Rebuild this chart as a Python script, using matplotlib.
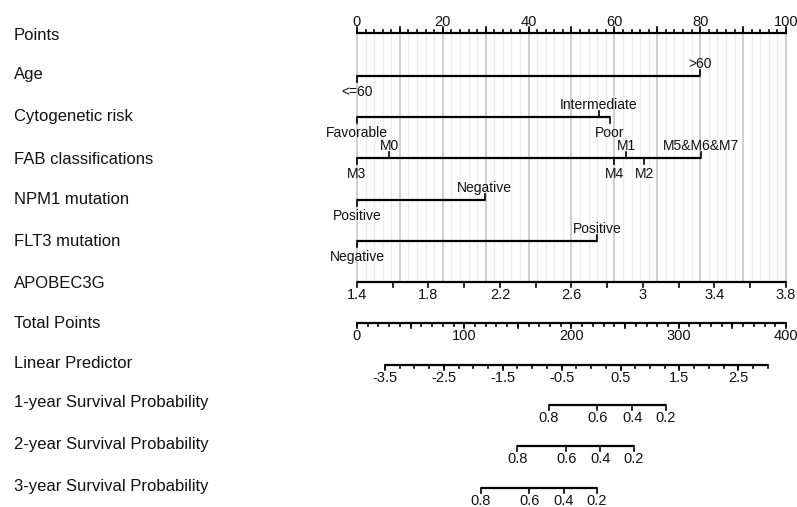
import matplotlib
matplotlib.use("Agg")
import matplotlib.pyplot as plt
import numpy as np

plt.rcParams['font.family'] = ['Liberation Sans', 'DejaVu Sans']

# ---- data ----
row_names = ["Points", "Age", "Cytogenetic risk", "FAB classifications", "NPM1 mutation",
             "FLT3 mutation", "APOBEC3G", "Total Points", "Linear Predictor",
             "1-year Survival Probability", "2-year Survival Probability",
             "3-year Survival Probability"]

# categorical predictors: (label, points, side) side: 1 above, -1 below
age_levels = [("<=60", 0.0, -1), (">60", 80.0, 1)]
cyto_levels = [("Favorable", 0.0, -1), ("Intermediate", 56.3, 1), ("Poor", 58.9, -1)]
fab_levels = [("M3", 0.0, -1), ("M0", 7.5, 1), ("M4", 60.0, -1), ("M1", 62.7, 1),
              ("M2", 67.0, -1), ("M5&M6&M7", 80.2, 1)]
npm1_levels = [("Positive", 0.0, -1), ("Negative", 29.8, 1)]
flt3_levels = [("Negative", 0.0, -1), ("Positive", 56.0, 1)]

# continuous predictor APOBEC3G: 1.4 -> 0 points, 3.8 -> 100 points
apo_min, apo_max = 1.4, 3.8
apo_labels = [1.4, 1.8, 2.2, 2.6, 3.0, 3.4, 3.8]

# linear predictor scale in total points
lp_min, lp_max = -3.5, 3.0
lp_tp_at_min = 26.1
tp_per_lp = 54.9
lp_labels = [-3.5, -2.5, -1.5, -0.5, 0.5, 1.5, 2.5]

# survival probability ticks (position in total points)
surv_probs = [0.8, 0.6, 0.4, 0.2]
surv_1y_tp = [179.0, 224.0, 256.6, 287.8]
surv_2y_tp = [149.5, 195.0, 227.0, 258.0]
surv_3y_tp = [115.6, 160.6, 193.0, 223.5]

# ---- layout ----
W, H = 797, 507
x0_px, x100_px = 357, 786
ppx = (x100_px - x0_px) / 100.0          # pixels per point
row_y = [33, 76, 117, 158, 200, 241, 282, 323, 365, 405, 446, 488]
label_y = [36, 75, 117, 159, 200, 241, 283, 323, 364, 403, 445, 487]

fig = plt.figure(figsize=(W / 100, H / 100), dpi=100)
ax = fig.add_axes([0, 0, 1, 1])
ax.set_xlim(-x0_px / ppx, (W - x0_px) / ppx)
ax.set_ylim(H, 0)
ax.axis("off")

LW = 1.6
TXT = "#111111"
FS = 10.5      # numeric tick labels
FS_CAT = 10    # level labels
px = 1.0 / ppx   # one pixel in x units

# gridlines
for p in np.arange(0, 101, 2):
    major = (p % 10 == 0)
    ax.plot([p, p], [row_y[0], row_y[6]], color="#cbcbcb" if major else "#ececec",
            lw=1.3 if major else 1.0, zorder=0)

def axis_row(y, ticks_major, ticks_minor, labels, pos, up=False, long_len=6, short_len=3):
    ax.plot([min(ticks_minor + ticks_major), max(ticks_minor + ticks_major)], [y, y],
            color="k", lw=LW, solid_capstyle="butt", zorder=3)
    d = -1 if up else 1
    for t in ticks_minor:
        ax.plot([t, t], [y, y + d * short_len], color="k", lw=1.2, zorder=3)
    for t in ticks_major:
        ax.plot([t, t], [y, y + d * long_len], color="k", lw=1.2, zorder=3)
    for lab, t in zip(labels, pos):
        if up:
            ax.text(t, y - 7, lab, ha="center", va="baseline", fontsize=FS, color=TXT)
        else:
            ax.text(t, y + 17, lab, ha="center", va="baseline", fontsize=FS, color=TXT)

# Points
axis_row(row_y[0], list(np.arange(0, 101, 10)), list(np.arange(0, 101, 2)),
         [str(v) for v in range(0, 101, 20)], list(range(0, 101, 20)), up=True)

def cat_row(y, levels):
    pts = [p for _, p, _ in levels]
    ax.plot([min(pts), max(pts)], [y, y], color="k", lw=LW, solid_capstyle="butt", zorder=3)
    for lab, p, side in levels:
        ax.plot([p, p], [y, y - side * 6], color="k", lw=1.2, zorder=3)
        if side > 0:
            ax.text(p, y - 8, lab, ha="center", va="baseline", fontsize=FS_CAT, color=TXT)
        else:
            ax.text(p, y + 20, lab, ha="center", va="baseline", fontsize=FS_CAT, color=TXT)

cat_row(row_y[1], age_levels)
cat_row(row_y[2], cyto_levels)
cat_row(row_y[3], fab_levels)
cat_row(row_y[4], npm1_levels)
cat_row(row_y[5], flt3_levels)

# APOBEC3G
def apo_pts(v):
    return (np.asarray(v) - apo_min) / (apo_max - apo_min) * 100

apo_ticks = list(apo_pts(np.arange(1.4, 3.81, 0.2)))
axis_row(row_y[6], apo_ticks, [], [("%g" % v) for v in apo_labels], list(apo_pts(apo_labels)),
         long_len=5)

# Total points (400 total points -> 100 on the points scale)
tp = lambda v: np.asarray(v) / 4.0
axis_row(row_y[7], list(tp(np.arange(0, 401, 50))), list(tp(np.arange(0, 401, 10))),
         [str(v) for v in range(0, 401, 100)], list(tp(np.arange(0, 401, 100))), short_len=3, long_len=5)

# Linear predictor
def lp_x(v):
    return tp(lp_tp_at_min + (np.asarray(v) - lp_min) * tp_per_lp)

axis_row(row_y[8], list(lp_x(lp_labels)), list(lp_x(np.arange(lp_min, lp_max + 0.01, 0.25))),
         [("%g" % v) for v in lp_labels], list(lp_x(lp_labels)), short_len=3, long_len=5)

# Survival probabilities
for y, pos in zip(row_y[9:], [surv_1y_tp, surv_2y_tp, surv_3y_tp]):
    axis_row(y, list(tp(pos)), [], [("%g" % v) for v in surv_probs], list(tp(pos)), long_len=5)

# row labels
for name, y in zip(row_names, label_y):
    ax.text(-x0_px / ppx + 14 * px, y, name, ha="left", va="center", fontsize=12, color=TXT)

fig.savefig("out.png", dpi=100)
